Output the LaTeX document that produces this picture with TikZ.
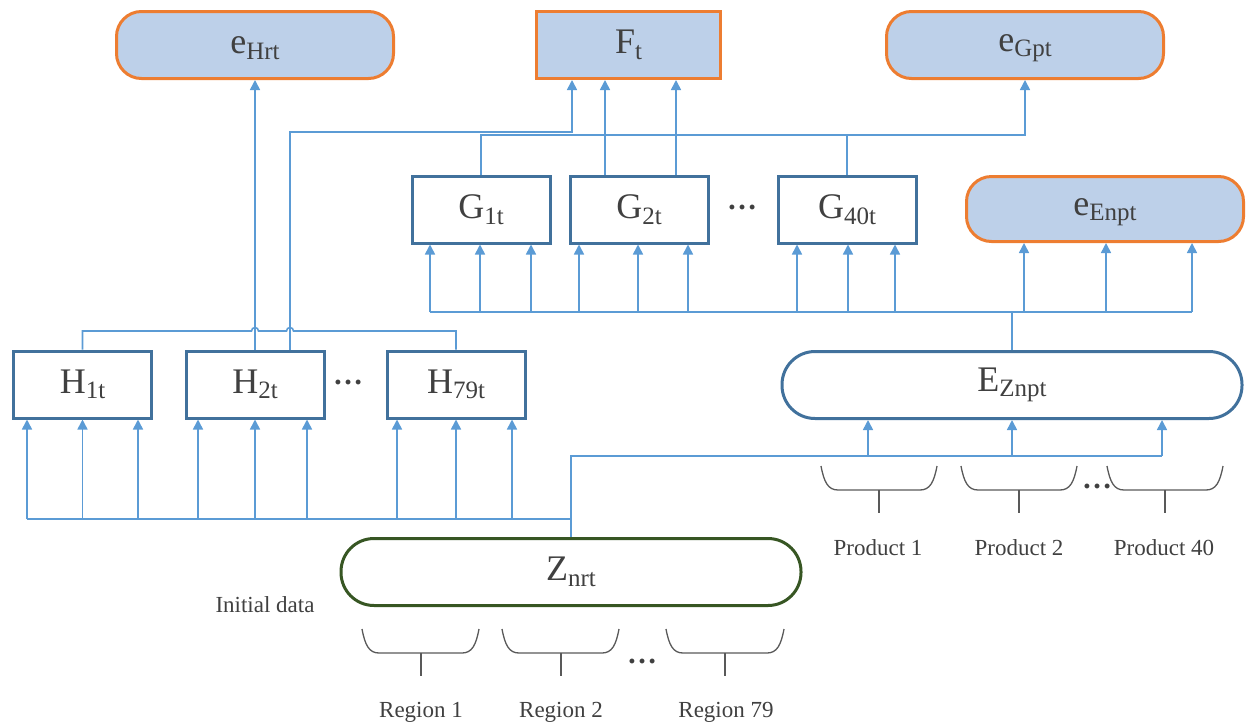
\documentclass[tikz,border=0pt]{standalone}
\usepackage{fontspec}
\setmainfont{Liberation Serif}
\usetikzlibrary{calc,arrows.meta}
\definecolor{boxblue}{HTML}{41719C}
\definecolor{lineblue}{HTML}{5B9BD5}
\definecolor{orng}{HTML}{ED7D31}
\definecolor{fillblue}{HTML}{BDD0E9}
\definecolor{zgreen}{HTML}{375623}
\definecolor{txt}{HTML}{404040}
\definecolor{brc}{HTML}{595959}
\newcommand{\lbl}[2]{{\fontsize{36}{40}\selectfont\vphantom{H}#1\raisebox{-5.5pt}{\fontsize{25}{27}\selectfont #2}}}
\begin{document}
\begin{tikzpicture}[x=1pt,y=-1pt,
 box/.style={draw=boxblue,line width=3pt,fill=white,minimum width=138pt,minimum height=67pt,inner sep=0pt,text=txt},
 res/.style={draw=orng,line width=3pt,fill=fillblue,minimum width=277pt,minimum height=67pt,rounded corners=25pt,inner sep=0pt,text=txt},
 pill/.style={line width=3pt,fill=white,minimum width=460pt,minimum height=67pt,rounded corners=33pt,inner sep=0pt,text=txt},
 conn/.style={draw=lineblue,line width=1.6pt},
 arr/.style={conn,-{Triangle[length=10pt,width=10pt]}},
 brace/.style={draw=brc,line width=1.3pt},
 small/.style={text=txt,font=\fontsize{23}{25}\selectfont},
 dots/.style={text=txt,font=\fontsize{30}{30}\selectfont\bfseries}]
\useasboundingbox (0,0) rectangle (1247,726);

% result nodes
\node[res] (eH) at (255,45) {\lbl{e}{Hrt}};
\node[res,sharp corners,minimum width=184pt] (F) at (628.5,45) {\lbl{F}{t}};
\node[res] (eG) at (1025,45) {\lbl{e}{Gpt}};
\node[res,minimum height=65pt] (eE) at (1105,209) {\lbl{e}{Enpt}};

% G row
\node[box] (G1) at (481,209.5) {\lbl{G}{1t}};
\node[box] (G2) at (639,209.5) {\lbl{G}{2t}};
\node[box] (G40) at (847,209.5) {\lbl{G}{40t}};
\node[dots] (gd) at (742,207) {…};

% H row
\node[box] (H1) at (82.5,384.5) {\lbl{H}{1t}};
\node[box] (H2) at (255,384.5) {\lbl{H}{2t}};
\node[box] (H79) at (456,384.5) {\lbl{H}{79t}};
\node[dots] (hd) at (348,382) {…};

% big nodes
\node[pill,draw=boxblue] (E) at (1012,385) {\lbl{E}{Znpt}};
\node[pill,draw=zgreen] (Z) at (571,572) {\lbl{Z}{nrt}};
\node[small] (init) at (265,605) {Initial data};

% bus coordinates
\coordinate (hb) at (27,519);
\coordinate (ebR) at (1162,456);
\coordinate (gbL) at (430,312);
\coordinate (gbR) at (1192,312);
\coordinate (ht) at (0,331);
\coordinate (gt) at (0,135);
\coordinate (ft) at (0,132);

% Z -> H bus and E bus
\draw[conn] (hb) -- (Z.north |- hb);
\draw[conn] (Z.north) |- (ebR);
\foreach \n/\d in {H1/-55.5,H1/0,H1/55.5,H2/-57,H2/0,H2/52,H79/-59,H79/0,H79/56}{
  \path ($(\n.south)+(\d,0)$) coordinate (tmp);
  \draw[arr] (tmp |- hb) -- (tmp);
}
\foreach \d in {-144,0,150}{
  \path ($(E.south)+(\d,0)$) coordinate (tmp);
  \draw[arr] (tmp |- ebR) -- (tmp);
}

% E -> G bus
\draw[conn] (gbL) -- (gbR);
\draw[conn] (E.north) -- (E.north |- gbL);
\foreach \n/\d in {G1/-51,G1/-1,G1/50,G2/-60,G2/-1,G2/49,G40/-50,G40/1,G40/48,eE/-81,eE/1,eE/87}{
  \path ($(\n.south)+(\d,0)$) coordinate (tmp);
  \draw[arr] (tmp |- gbL) -- (tmp);
}

% H top connections with hops
\draw[conn] (H1.north) -- (H1.north |- ht) -- ($(H2.north |- ht)+(-3.5,0)$)
  arc[start angle=180,end angle=0,radius=3.5pt] -- ($(H2.north |- ht)+(31.5,0)$)
  arc[start angle=180,end angle=0,radius=3.5pt] -- (H79.north |- ht) -- (H79.north);
\draw[arr] (H2.north) -- (eH.south);
\draw[arr] ($(H2.north)+(35,0)$) |- ($(F.south |- ft)+(-56.5,0)$) -- ($(F.south)+(-56.5,0)$);

% G top connections
\draw[arr] (G1.north) |- (eG.south |- gt) -- (eG.south);
\draw[conn] (G40.north) -- (G40.north |- gt);
\draw[arr] ($(G2.north)+(-34,0)$) -- ($(F.south)+(-23.5,0)$);
\draw[arr] ($(G2.north)+(37,0)$) -- ($(F.south)+(47.5,0)$);

% region braces
\foreach \a/\b/\m in {362/479/421,502/619/561,666/784/725}{
  \draw[brace] (\a,629) .. controls (\a+3,645) and (\a+7,653) .. (\a+17,653) -- (\b-17,653) .. controls (\b-7,653) and (\b-3,645) .. (\b,629);
  \draw[brace] (\m,653) -- (\m,676);
}
\node[dots] (rd) at (642,661) {…};
\node[small] (r1) at (421,712) {Region 1};
\node[small] (r2) at (561,712) {Region 2};
\node[small] (r79) at (726,712) {Region 79};

% product braces
\foreach \a/\b/\m in {821/937/879,961/1077/1019,1107/1223/1165}{
  \draw[brace] (\a,466) .. controls (\a+3,482) and (\a+7,490) .. (\a+17,490) -- (\b-17,490) .. controls (\b-7,490) and (\b-3,482) .. (\b,466);
  \draw[brace] (\m,490) -- (\m,513);
}
\node[dots] (pd) at (1097,486) {…};
\node[small] (p1) at (878,548) {Product 1};
\node[small] (p2) at (1019,548) {Product 2};
\node[small] (p40) at (1164,548) {Product 40};
\end{tikzpicture}
\end{document}
